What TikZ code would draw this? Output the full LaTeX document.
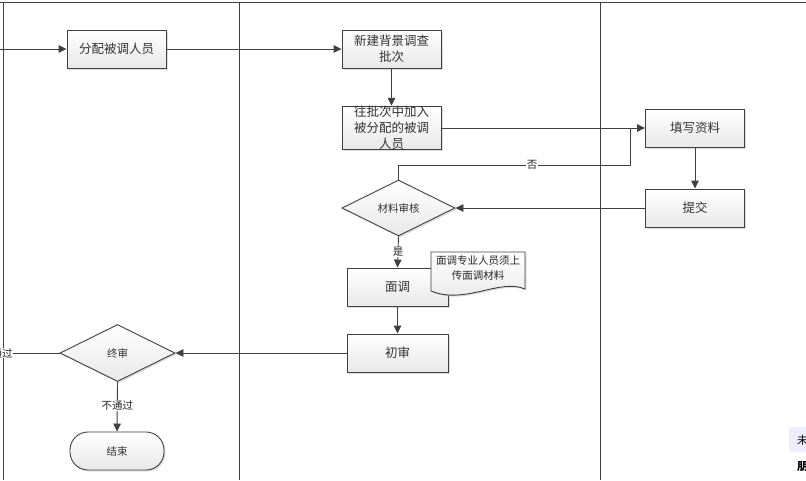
\documentclass[tikz,border=0pt]{standalone}
\usepackage{fontspec}
\newfontfamily\cjk{Noto Sans CJK SC}
\usetikzlibrary{shapes.geometric,arrows.meta,shadows}
\definecolor{ln}{HTML}{404040}
\definecolor{tx}{HTML}{333333}
\tikzset{
  shade box/.style={draw=ln, line width=0.9pt, top color=white, bottom color=black!9,
    drop shadow={shadow xshift=1.5pt, shadow yshift=-1.5pt, fill=black!30, opacity=0.45}},
  box/.style={shade box, rectangle, minimum width=99pt, minimum height=38pt, inner sep=0pt,
    font=\cjk\fontsize{12.5}{16}\selectfont, text=tx, align=center},
  dia/.style={shade box, diamond, inner sep=0pt, font=\cjk\fontsize{10.5}{12}\selectfont, text=tx},
  term/.style={shade box, rectangle, rounded corners=18pt, minimum width=94pt, minimum height=38pt,
    inner sep=0pt, font=\cjk\fontsize{10.5}{12}\selectfont, text=tx},
  lbl/.style={fill=white, inner sep=0.5pt, font=\cjk\fontsize{10.5}{12}\selectfont, text=black!85},
  conn/.style={draw=ln, line width=0.9pt},
  arr/.style={conn, -{Triangle[length=8pt,width=7.5pt]}},
  lane/.style={draw=ln, line width=1pt},
}
\begin{document}
\begin{tikzpicture}[x=1pt,y=-1pt]
\useasboundingbox (0,0) rectangle (806,480);
\fill[white] (0,0) rectangle (806,480);
% lanes
\draw[lane] (0,2) -- (806,2);
\draw[lane] (3,2) -- (3,480);
\draw[lane] (239,2) -- (239,480);
\draw[lane] (600,2) -- (600,480);

% nodes
\node[box] (fp) at (116.5,49) {分配被调人员};
\node[box] (xj) at (391.5,49) {新建背景调查\\批次};
\node[box, minimum height=37pt] (wp) at (391.5,128) {往批次中加入\\被分配的被调\\人员};
\node[box] (tx) at (695,128) {填写资料};
\node[box] (tj) at (695,208) {提交};
\node[dia, minimum width=113pt, minimum height=56pt] (sh) at (398.5,208) {材料审核};
\node[box, minimum width=101pt] (mt) at (397.5,287) {面调};
\node[box, minimum width=101pt] (cs) at (397.5,353) {初审};
\node[dia, minimum width=115pt, minimum height=57pt] (zs) at (117.5,353) {终审};
\node[term] (js) at (117,451) {结束};

% note (document shape)
\fill[black!30, opacity=0.45, xshift=1.5pt, yshift=-1.5pt]
  (431,252) -- (525,252) -- (525,289) .. controls (500,278) and (465,305) .. (431,291) -- cycle;
\shade[top color=white, bottom color=black!9, draw=ln, line width=0.9pt]
  (431,252) -- (525,252) -- (525,289) .. controls (500,278) and (465,305) .. (431,291) -- cycle;
\node[font=\cjk\fontsize{10.5}{15}\selectfont, text=black!85, align=center] (note) at (478,268) {面调专业人员须上\\传面调材料};

% connectors
\coordinate (in) at (-20,49);
\draw[arr] (in) -- (fp.west);
\draw[arr] (fp.east) -- (xj.west);
\draw[arr] (xj.south) -- (wp.north);
\draw[arr] (wp.east) -- (tx.west);
\draw[arr] (tx.south) -- (tj.north);
\draw[arr] (tj.west) -- (sh.east);
\coordinate (j) at (630,128);
\coordinate (nb) at (630,165);
\draw[conn] (sh.north) |- (nb) -- (j);
\node[lbl] (no) at (532,165) {否};
\draw[arr] (sh.south) -- node[lbl] (yes) {是} (mt.north);
\draw[arr] (mt.south) -- (cs.north);
\draw[arr] (cs.west) -- (zs.east);
\draw[arr] (zs.south) -- node[lbl, pos=0.48] (np) {不通过} (js.north);
\coordinate (out) at (-30,353);
\draw[conn] (zs.west) -- (out);
\node[lbl] (pass) at (2,353) {通过};

% screen artifacts at bottom right
\begin{scope}
\clip (0,0) rectangle (806,480);
\fill[blue!7, rounded corners=3pt] (789,427) rectangle (820,452);
\node[font=\cjk\fontsize{11}{12}\selectfont, anchor=west, inner sep=0pt] (a1) at (797,440) {未};
\node[font=\cjk\bfseries\fontsize{11}{12}\selectfont, anchor=west, inner sep=0pt] (a2) at (797,467) {朋};
\end{scope}
\end{tikzpicture}
\end{document}
